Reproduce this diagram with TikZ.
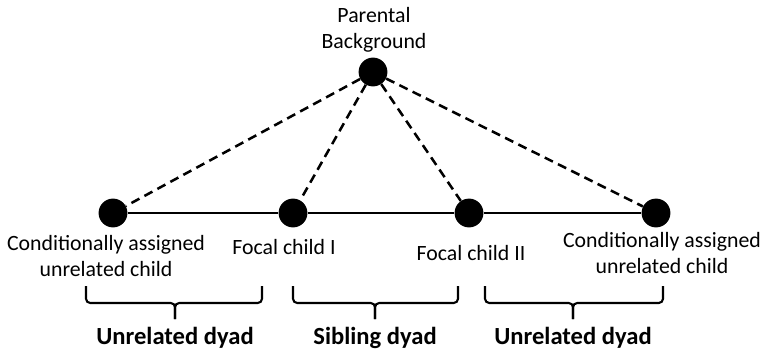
\documentclass[tikz,border=0pt]{standalone}
\usepackage{fontspec}
\setmainfont{Carlito}
\usetikzlibrary{positioning}

\begin{document}
\begin{tikzpicture}[
    x=0.025cm, y=-0.025cm,
    dot/.style={circle, fill=black, minimum size=0.72cm, inner sep=0pt},
    lbl/.style={align=center, font=\fontsize{15.5}{18.5}\selectfont, inner sep=0pt},
    dyad/.style={font=\fontsize{17.5}{21}\selectfont\bfseries, inner sep=0pt},
    tie/.style={line width=1.8pt, dash pattern=on 6.5pt off 4pt},
    link/.style={line width=1.8pt},
    brace/.style={line width=1.5pt, rounded corners=3pt}
]
    \useasboundingbox (0,0) rectangle (766,354);

    % Nodes
    \node[dot] (P) at (373,72) {};
    \node[dot] (U1) at (113,213) {};
    \node[dot] (F1) at (293,213) {};
    \node[dot] (F2) at (469,213) {};
    \node[dot] (U2) at (656,213) {};

    % Labels
    \node[lbl] (Plbl) at (374,30) {Parental\\Background};
    \node[lbl] (U1lbl) at (106,256) {Conditionally assigned\\unrelated child};
    \node[lbl] (F1lbl) at (284,247) {Focal child I};
    \node[lbl] (F2lbl) at (471,253) {Focal child II};
    \node[lbl] (U2lbl) at (662,253) {Conditionally assigned\\unrelated child};

    % Lines
    \draw[link] (U1) -- (F1) -- (F2) -- (U2);
    \draw[tie] (P) -- (U1);
    \draw[tie] (P) -- (F1);
    \draw[tie] (P) -- (F2);
    \draw[tie] (P) -- (U2);

    % Braces
    \draw[brace] (86,286) -- (86,303) -- (175,303) -- (175,319);
    \draw[brace] (262,286) -- (262,303) -- (175,303) -- (175,319);
    \draw[brace] (293,286) -- (293,303) -- (375,303) -- (375,319);
    \draw[brace] (458,286) -- (458,303) -- (375,303) -- (375,319);
    \draw[brace] (485,286) -- (485,303) -- (573,303) -- (573,319);
    \draw[brace] (663,286) -- (663,303) -- (573,303) -- (573,319);

    \node[dyad] (D1) at (175,338) {Unrelated dyad};
    \node[dyad] (D2) at (375,338) {Sibling dyad};
    \node[dyad] (D3) at (573,338) {Unrelated dyad};
\end{tikzpicture}
\end{document}
